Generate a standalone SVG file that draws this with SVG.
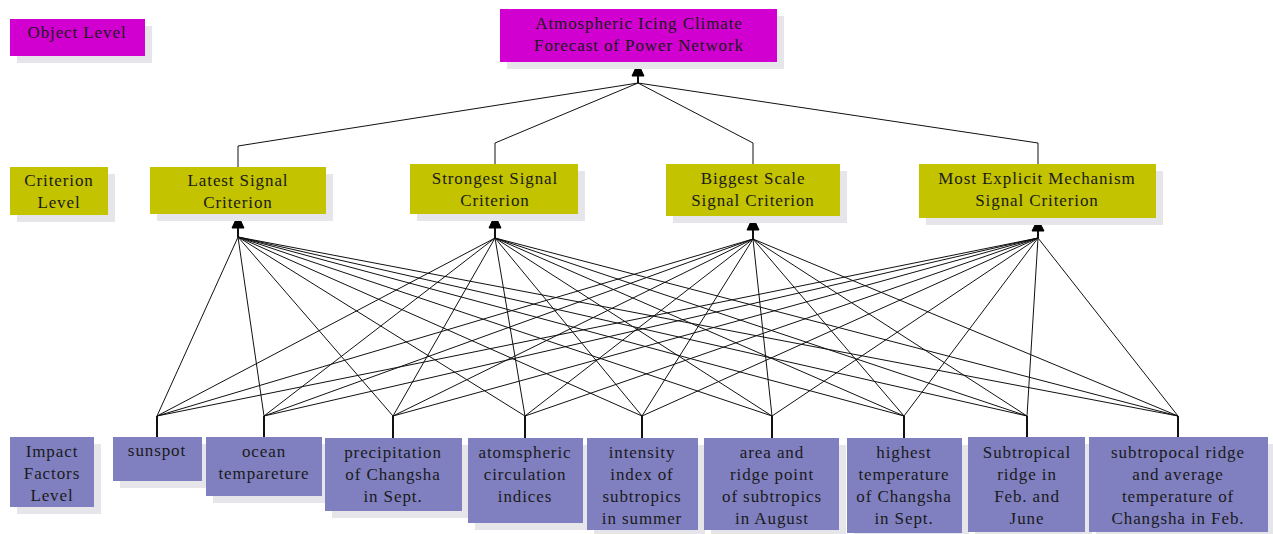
<svg xmlns="http://www.w3.org/2000/svg" width="1273" height="534" viewBox="0 0 1273 534">
<defs>
<style>
.sh{fill:#e6e6ea}
.obj{fill:#d100d1}
.cri{fill:#c3c300}
.fac{fill:#8080c0}
text{font-family:"Liberation Serif","Times New Roman",serif;font-size:17px;letter-spacing:0.9px;fill:#1a1a1a;text-anchor:middle}
.ln{stroke:#111;stroke-width:1;fill:none}
.st{stroke:#111;stroke-width:2;fill:none}
.ah{fill:#000;stroke:#000;stroke-width:1;stroke-linejoin:miter}
</style>
</defs>
<rect width="1273" height="534" fill="#ffffff"/>

<g id="connectors">
<line class="st" x1="638" y1="83" x2="638" y2="72"/>
<polygon class="ah" points="638,63 632,76 644,76"/>
<polyline class="ln" points="238,167 238,146 638,83"/>
<polyline class="ln" points="495,164 495,143 638,83"/>
<polyline class="ln" points="753,164 753,143 638,83"/>
<polyline class="ln" points="1038,164 1038,143 638,83"/>
<line class="st" x1="238" y1="237" x2="238" y2="224"/>
<polygon class="ah" points="238,215 232,228 244,228"/>
<line class="st" x1="495" y1="238" x2="495" y2="224"/>
<polygon class="ah" points="495,215 489,228 501,228"/>
<line class="st" x1="753" y1="239" x2="753" y2="226"/>
<polygon class="ah" points="753,217 747,230 759,230"/>
<line class="st" x1="1038" y1="238" x2="1038" y2="228"/>
<polygon class="ah" points="1038,219 1032,231 1044,231"/>
<g class="ln">
<line x1="238" y1="237" x2="157" y2="416"/><line x1="238" y1="237" x2="264" y2="416"/><line x1="238" y1="237" x2="393" y2="416"/><line x1="238" y1="237" x2="525" y2="416"/><line x1="238" y1="237" x2="642" y2="416"/><line x1="238" y1="237" x2="772" y2="416"/><line x1="238" y1="237" x2="904" y2="416"/><line x1="238" y1="237" x2="1027" y2="416"/><line x1="238" y1="237" x2="1178" y2="416"/>
<line x1="495" y1="238" x2="157" y2="416"/><line x1="495" y1="238" x2="264" y2="416"/><line x1="495" y1="238" x2="393" y2="416"/><line x1="495" y1="238" x2="525" y2="416"/><line x1="495" y1="238" x2="642" y2="416"/><line x1="495" y1="238" x2="772" y2="416"/><line x1="495" y1="238" x2="904" y2="416"/><line x1="495" y1="238" x2="1027" y2="416"/><line x1="495" y1="238" x2="1178" y2="416"/>
<line x1="753" y1="239" x2="157" y2="416"/><line x1="753" y1="239" x2="264" y2="416"/><line x1="753" y1="239" x2="393" y2="416"/><line x1="753" y1="239" x2="525" y2="416"/><line x1="753" y1="239" x2="642" y2="416"/><line x1="753" y1="239" x2="772" y2="416"/><line x1="753" y1="239" x2="904" y2="416"/><line x1="753" y1="239" x2="1027" y2="416"/><line x1="753" y1="239" x2="1178" y2="416"/>
<line x1="1038" y1="238" x2="157" y2="416"/><line x1="1038" y1="238" x2="264" y2="416"/><line x1="1038" y1="238" x2="393" y2="416"/><line x1="1038" y1="238" x2="525" y2="416"/><line x1="1038" y1="238" x2="642" y2="416"/><line x1="1038" y1="238" x2="772" y2="416"/><line x1="1038" y1="238" x2="904" y2="416"/><line x1="1038" y1="238" x2="1027" y2="416"/><line x1="1038" y1="238" x2="1178" y2="416"/>
</g>
<g class="st">
<line x1="157" y1="416" x2="157" y2="437"/><line x1="264" y1="416" x2="264" y2="437"/><line x1="393" y1="416" x2="393" y2="438"/><line x1="525" y1="416" x2="525" y2="438"/><line x1="642" y1="416" x2="642" y2="438"/><line x1="772" y1="416" x2="772" y2="438"/><line x1="904" y1="416" x2="904" y2="438"/><line x1="1027" y1="416" x2="1027" y2="437"/><line x1="1178" y1="416" x2="1178" y2="437"/>
</g>
</g>

<g id="object-level">
<rect class="sh" x="17" y="26" width="135" height="37"/>
<rect class="obj" x="10" y="19" width="135" height="37"/>
<text x="77" y="38">Object Level</text>
</g>
<g id="goal">
<rect class="sh" x="507" y="16" width="277" height="53"/>
<rect class="obj" x="500" y="9" width="277" height="53"/>
<text x="639" y="29">Atmospheric Icing Climate</text>
<text x="639" y="51">Forecast of Power Network</text>
</g>

<g id="criterion-level">
<rect class="sh" x="17" y="174" width="98" height="48"/>
<rect class="cri" x="10" y="167" width="98" height="48"/>
<text x="59" y="186">Criterion</text>
<text x="59" y="208">Level</text>
</g>
<g id="latest">
<rect class="sh" x="157" y="174" width="176" height="47"/>
<rect class="cri" x="150" y="167" width="176" height="47"/>
<text x="238" y="186">Latest Signal</text>
<text x="238" y="208">Criterion</text>
</g>
<g id="strongest">
<rect class="sh" x="417" y="171" width="168" height="50"/>
<rect class="cri" x="410" y="164" width="168" height="50"/>
<text x="495" y="184">Strongest Signal</text>
<text x="495" y="206">Criterion</text>
</g>
<g id="biggest">
<rect class="sh" x="673" y="171" width="174" height="52"/>
<rect class="cri" x="666" y="164" width="174" height="52"/>
<text x="753" y="184">Biggest Scale</text>
<text x="753" y="206">Signal Criterion</text>
</g>
<g id="explicit">
<rect class="sh" x="926" y="171" width="237" height="54"/>
<rect class="cri" x="919" y="164" width="237" height="54"/>
<text x="1037" y="184">Most Explicit Mechanism</text>
<text x="1037" y="206">Signal Criterion</text>
</g>

<g id="impact-level">
<rect class="sh" x="17" y="444" width="84" height="70"/>
<rect class="fac" x="10" y="437" width="84" height="70"/>
<text x="52" y="457">Impact</text>
<text x="52" y="479">Factors</text>
<text x="52" y="501">Level</text>
</g>
<g id="sunspot">
<rect class="sh" x="120" y="444" width="89" height="44"/>
<rect class="fac" x="113" y="437" width="89" height="44"/>
<text x="157" y="456">sunspot</text>
</g>
<g id="ocean">
<rect class="sh" x="213" y="444" width="116" height="59"/>
<rect class="fac" x="206" y="437" width="116" height="59"/>
<text x="264" y="457">ocean</text>
<text x="264" y="479">tempareture</text>
</g>
<g id="precipitation">
<rect class="sh" x="332" y="445" width="137" height="73"/>
<rect class="fac" x="325" y="438" width="137" height="73"/>
<text x="393" y="458">precipitation</text>
<text x="393" y="480">of Changsha</text>
<text x="393" y="502">in Sept.</text>
</g>
<g id="circulation">
<rect class="sh" x="475" y="445" width="115" height="85"/>
<rect class="fac" x="468" y="438" width="115" height="85"/>
<text x="525" y="458">atomspheric</text>
<text x="525" y="480">circulation</text>
<text x="525" y="502">indices</text>
</g>
<g id="intensity">
<rect class="sh" x="594" y="445" width="111" height="92"/>
<rect class="fac" x="587" y="438" width="111" height="92"/>
<text x="642" y="458">intensity</text>
<text x="642" y="480">index of</text>
<text x="642" y="502">subtropics</text>
<text x="642" y="524">in summer</text>
</g>
<g id="area">
<rect class="sh" x="711" y="445" width="135" height="92"/>
<rect class="fac" x="704" y="438" width="135" height="92"/>
<text x="772" y="458">area and</text>
<text x="772" y="480">ridge point</text>
<text x="772" y="502">of subtropics</text>
<text x="772" y="524">in August</text>
</g>
<g id="highest">
<rect class="sh" x="854" y="445" width="115" height="95"/>
<rect class="fac" x="847" y="438" width="115" height="95"/>
<text x="904" y="458">highest</text>
<text x="904" y="480">temperature</text>
<text x="904" y="502">of Changsha</text>
<text x="904" y="524">in Sept.</text>
</g>
<g id="subtropical">
<rect class="sh" x="975" y="444" width="117" height="95"/>
<rect class="fac" x="968" y="437" width="117" height="95"/>
<text x="1027" y="458">Subtropical</text>
<text x="1027" y="480">ridge in</text>
<text x="1027" y="502">Feb. and</text>
<text x="1027" y="524">June</text>
</g>
<g id="subtropocal">
<rect class="sh" x="1096" y="444" width="179" height="95"/>
<rect class="fac" x="1089" y="437" width="179" height="95"/>
<text x="1178" y="458">subtropocal ridge</text>
<text x="1178" y="480">and average</text>
<text x="1178" y="502">temperature of</text>
<text x="1178" y="524">Changsha in Feb.</text>
</g>
</svg>
